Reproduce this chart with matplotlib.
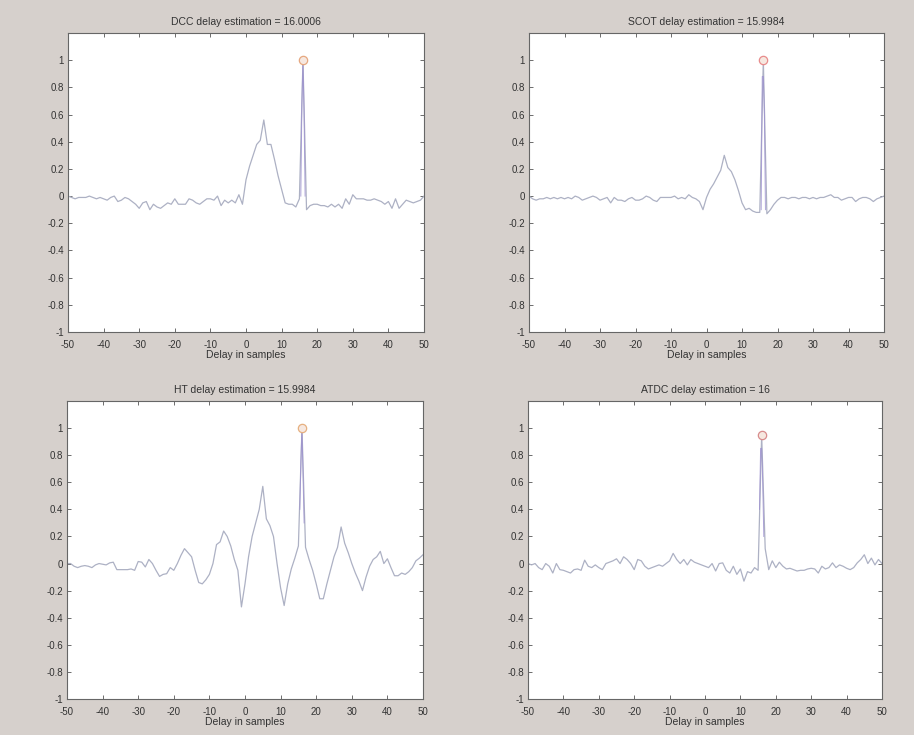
# cross-correlation delay estimation - four methods
import numpy as np
import matplotlib.pyplot as plt

plt.rcParams['font.family'] = ['Liberation Sans', 'DejaVu Sans']

lags = np.arange(-50, 51)

dcc = [0.00, -0.01, -0.02, -0.01, -0.01, -0.01, 0.00, -0.01, -0.02, -0.01,
       -0.02, -0.03, -0.01, 0.00, -0.04, -0.03, -0.01, -0.02, -0.04, -0.06,
       -0.09, -0.05, -0.04, -0.10, -0.06, -0.08, -0.09, -0.07, -0.05, -0.06,
       -0.02, -0.06, -0.06, -0.06, -0.02, -0.03, -0.05, -0.06, -0.04, -0.02,
       -0.02, -0.03, 0.00, -0.07, -0.03, -0.05, -0.03, -0.05, 0.01, -0.06,
       0.12, 0.22, 0.30, 0.38, 0.41, 0.56, 0.38, 0.38, 0.27, 0.15,
       0.05, -0.05, -0.06, -0.06, -0.08, -0.02, 1.00, -0.10, -0.07, -0.06,
       -0.06, -0.07, -0.07, -0.08, -0.06, -0.08, -0.06, -0.09, -0.02, -0.06,
       0.01, -0.02, -0.02, -0.02, -0.03, -0.03, -0.02, -0.03, -0.04, -0.06,
       -0.04, -0.09, -0.02, -0.09, -0.06, -0.03, -0.04, -0.05, -0.04, -0.03,
       0.00]

scot = [0.00, -0.02, -0.03, -0.02, -0.02, -0.01, -0.02, -0.01, -0.02, -0.01,
        -0.02, -0.01, -0.02, 0.00, -0.01, -0.03, -0.02, -0.01, 0.00, -0.01,
        -0.03, -0.02, -0.01, -0.05, -0.01, -0.03, -0.03, -0.04, -0.02, -0.01,
        -0.03, -0.03, -0.02, 0.00, -0.01, -0.03, -0.04, -0.01, -0.01, -0.01,
        -0.01, 0.00, -0.02, -0.01, -0.02, 0.01, -0.01, -0.02, -0.04, -0.10,
        -0.01, 0.05, 0.09, 0.14, 0.19, 0.30, 0.21, 0.18, 0.12, 0.04,
        -0.05, -0.10, -0.09, -0.11, -0.12, -0.12, 1.00, -0.13, -0.10, -0.06,
        -0.03, -0.01, -0.01, -0.02, -0.01, -0.01, -0.02, -0.01, -0.01, -0.02,
        -0.01, -0.02, -0.01, -0.01, 0.00, 0.01, -0.01, -0.01, -0.03, -0.02,
        -0.01, -0.01, -0.04, -0.02, -0.01, -0.01, -0.02, -0.04, -0.02, -0.01,
        0.00]

ht = [0.00, 0.00, -0.02, -0.03, -0.02, -0.015, -0.02, -0.03, -0.01, 0.00,
      -0.005, -0.01, 0.005, 0.01, -0.045, -0.045, -0.045, -0.045, -0.04, -0.05,
      0.015, 0.01, -0.025, 0.03, 0.00, -0.05, -0.095, -0.08, -0.075, -0.03,
      -0.05, 0.00, 0.06, 0.11, 0.08, 0.05, -0.05, -0.14, -0.15, -0.12,
      -0.08, 0.00, 0.14, 0.16, 0.24, 0.20, 0.13, 0.03, -0.05, -0.32,
      -0.15, 0.05, 0.20, 0.30, 0.40, 0.57, 0.33, 0.28, 0.20, 0.00,
      -0.18, -0.31, -0.15, -0.04, 0.04, 0.13, 1.00, 0.12, 0.03, -0.05,
      -0.15, -0.26, -0.26, -0.15, -0.05, 0.05, 0.12, 0.27, 0.15, 0.08,
      0.00, -0.07, -0.13, -0.20, -0.10, -0.02, 0.03, 0.05, 0.09, 0.00,
      0.035, -0.03, -0.09, -0.09, -0.07, -0.08, -0.06, -0.03, 0.02, 0.04,
      0.065]

atdc = [0.00, -0.01, 0.00, -0.03, -0.045, 0.00, -0.02, -0.07, 0.00, -0.045,
        -0.05, -0.06, -0.07, -0.045, -0.04, -0.05, 0.025, -0.02, -0.03, -0.01,
        -0.03, -0.045, 0.00, 0.01, 0.02, 0.035, 0.00, 0.05, 0.03, 0.00,
        -0.045, 0.03, 0.02, -0.02, -0.04, -0.03, -0.02, -0.01, -0.02, 0.00,
        0.02, 0.075, 0.03, 0.00, 0.03, -0.01, 0.03, 0.01, 0.00, -0.01,
        -0.02, -0.03, 0.00, -0.055, 0.00, 0.005, -0.05, -0.07, -0.02, -0.08,
        -0.04, -0.13, -0.06, -0.07, -0.03, -0.05, 0.95, 0.11, -0.045, 0.02,
        -0.03, 0.01, -0.02, -0.04, -0.035, -0.045, -0.055, -0.05, -0.05, -0.04,
        -0.035, -0.04, -0.07, -0.02, -0.04, -0.03, 0.005, -0.03, -0.01, -0.02,
        -0.035, -0.045, -0.03, 0.005, 0.03, 0.065, 0.00, 0.04, -0.01, 0.03,
        0.00]

# finer samples around the peak (purple trace)
peak_lags = [15.4, 15.7, 16.0, 16.3, 16.6]
dcc_peak = [0.0, 0.68, 1.0, 0.62, 0.0]
scot_peak = [-0.1, 0.88, 0.88, 0.6, -0.1]
ht_peak = [0.4, 0.75, 1.0, 0.65, 0.3]
atdc_peak = [0.4, 0.85, 0.85, 0.6, 0.2]

estimates = [16.0006, 15.9984, 15.9984, 16]
peak_vals = [1.0, 1.0, 1.0, 0.95]
names = ["DCC", "SCOT", "HT", "ATDC"]

xticks = [-50, -40, -30, -20, -10, 0, 10, 20, 30, 40, 50]
yticks = [-1, -0.8, -0.6, -0.4, -0.2, 0, 0.2, 0.4, 0.6, 0.8, 1]

curves = [dcc, scot, ht, atdc]
peaks = [dcc_peak, scot_peak, ht_peak, atdc_peak]
marker_cols = ["#e6a880", "#e88c8c", "#e6b080", "#d88c8c"]

fig = plt.figure(figsize=(9.14, 7.35), dpi=100, facecolor="#d6d0cc")

positions = [[0.0744, 0.5483, 0.3895, 0.4068],
             [0.5788, 0.5483, 0.3884, 0.4068],
             [0.0733, 0.0490, 0.3895, 0.4054],
             [0.5777, 0.0490, 0.3873, 0.4054]]

for i in range(4):
    ax = fig.add_axes(positions[i])
    ax.plot(lags, curves[i], color="#adb1c4", lw=0.9)
    ax.plot(peak_lags, peaks[i], color="#9c8fd0", lw=0.7, alpha=0.8)
    ax.plot(16, peak_vals[i], "o", ms=6, mfc="#f6e8e0", mec=marker_cols[i], mew=0.9)

    ax.set_xlim(-50, 50)
    ax.set_ylim(-1, 1.2)
    ax.set_xticks(xticks)
    ax.set_yticks(yticks)
    ax.set_xticklabels([str(t) for t in xticks])
    ax.set_yticklabels([str(t) for t in yticks])
    ax.tick_params(direction="in", top=True, right=True, length=3, width=0.6,
                   labelsize=7, colors="#555555", labelcolor="#333333")
    ax.tick_params(axis="x", pad=6)
    ax.tick_params(axis="y", pad=3)
    for s in ax.spines.values():
        s.set_color("#666666")
        s.set_linewidth(0.8)

    ax.set_title("%s delay estimation = %g" % (names[i], estimates[i]),
                 fontsize=7.5, color="#333333", pad=6)
    ax.set_xlabel("Delay in samples", fontsize=7.5, color="#333333", labelpad=0)

plt.savefig("out.png", dpi=100, facecolor=fig.get_facecolor())
